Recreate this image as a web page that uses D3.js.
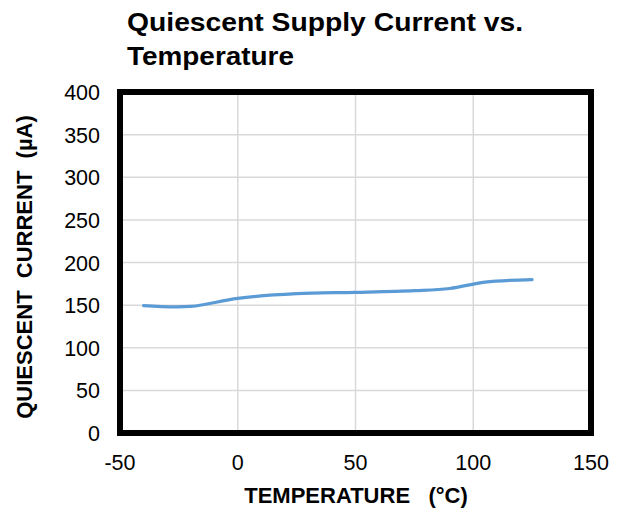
<!DOCTYPE html>
<html>
<head>
<meta charset="utf-8">
<script src="https://cdn.jsdelivr.net/npm/d3@7"></script>
<style>
  body { margin: 0; background: #fff; }
  svg text { font-family: "Liberation Sans", Arial, sans-serif; white-space: pre; }
</style>
</head>
<body>
<svg id="chart" width="617" height="509"></svg>
<script>
// data
var temps = [-40, -20, 0, 25, 50, 75, 90, 105, 125];
var current = [149.5, 148.5, 158, 163.5, 165, 167, 169.5, 177, 180];
var xTicks = [-50, 0, 50, 100, 150];
var yTicks = [0, 50, 100, 150, 200, 250, 300, 350, 400];

var pl = 120, pr = 591, pt = 92, pb = 433;

var svg = d3.select("#chart");

var x = d3.scaleLinear().domain([-50, 150]).range([pl, pr]);
var y = d3.scaleLinear().domain([0, 400]).range([pb, pt]);

// grid
svg.append("g").selectAll("line").data(xTicks).enter().append("line")
  .attr("x1", function(d){ return x(d); }).attr("x2", function(d){ return x(d); })
  .attr("y1", pt).attr("y2", pb)
  .attr("stroke", "#d9d9d9").attr("stroke-width", 1.5);

svg.append("g").selectAll("line").data(yTicks).enter().append("line")
  .attr("x1", pl).attr("x2", pr)
  .attr("y1", function(d){ return y(d); }).attr("y2", function(d){ return y(d); })
  .attr("stroke", "#d9d9d9").attr("stroke-width", 1.5);

// tick labels
svg.append("g").selectAll("text").data(yTicks).enter().append("text")
  .attr("x", 100).attr("y", function(d){ return y(d) + 8; })
  .attr("text-anchor", "end").attr("font-size", 21.5).attr("fill", "#000")
  .text(function(d){ return d; });

svg.append("g").selectAll("text").data(xTicks).enter().append("text")
  .attr("x", function(d){ return x(d); }).attr("y", 470)
  .attr("text-anchor", "middle").attr("font-size", 21.5).attr("fill", "#000")
  .text(function(d){ return d; });

// the curve (smoothed like the spreadsheet line)
var line = d3.line()
  .x(function(d, i){ return x(temps[i]); })
  .y(function(d){ return y(d); })
  .curve(d3.curveCatmullRom.alpha(0.5));

svg.append("path").datum(current)
  .attr("d", line)
  .attr("fill", "none")
  .attr("stroke", "#5b9bd5")
  .attr("stroke-width", 3.2)
  .attr("stroke-linecap", "round");

// frame
svg.append("rect")
  .attr("x", pl).attr("y", pt)
  .attr("width", pr - pl).attr("height", pb - pt)
  .attr("fill", "none").attr("stroke", "#000").attr("stroke-width", 6);

// titles
svg.append("text").attr("x", 127).attr("y", 31)
  .attr("font-size", 26).attr("font-weight", "bold")
  .attr("textLength", 396).attr("lengthAdjust", "spacingAndGlyphs")
  .text("Quiescent Supply Current vs.");
svg.append("text").attr("x", 127).attr("y", 65)
  .attr("font-size", 26).attr("font-weight", "bold")
  .attr("textLength", 167).attr("lengthAdjust", "spacingAndGlyphs")
  .text("Temperature");

svg.append("text").attr("x", 356).attr("y", 503)
  .attr("text-anchor", "middle").attr("font-size", 22).attr("font-weight", "bold")
  .text("TEMPERATURE   (°C)");

svg.append("text")
  .attr("transform", "translate(32,267) rotate(-90)")
  .attr("text-anchor", "middle").attr("font-size", 22).attr("font-weight", "bold")
  .text("QUIESCENT  CURRENT  (µA)");
</script>
</body>
</html>
